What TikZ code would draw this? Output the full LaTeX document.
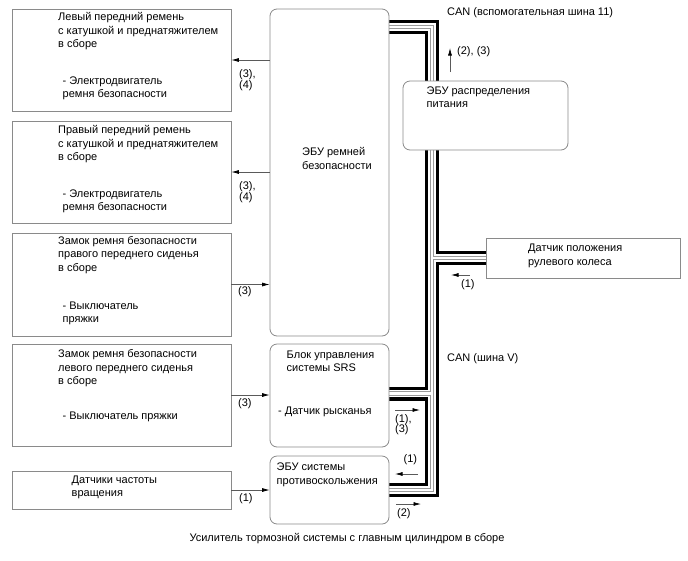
\documentclass[tikz,border=0pt]{standalone}
\usepackage{fontspec}
\setmainfont{Liberation Sans}
\usetikzlibrary{arrows.meta,positioning,calc,backgrounds}
\definecolor{frame}{HTML}{8A8A8A}
\definecolor{wire}{HTML}{5A5A5A}
\definecolor{core}{HTML}{9A9A9A}

\begin{document}
\begin{tikzpicture}[x=1pt,y=-1pt,
  font=\fontsize{11}{13.6}\selectfont,
  part/.style={draw=frame, fill=white, line width=0.8pt, inner sep=0pt},
  ecu/.style={part, rounded corners=7pt},
  txt/.style={anchor=base west, inner sep=0pt, align=left},
  tag/.style={txt, font=\fontsize{11}{10.5}\selectfont},
  sig/.style={draw=wire, line width=0.7pt, -{Latex[length=7.5pt,width=4pt,color=black]}}]
  \useasboundingbox (0,0) rectangle (688,560);

  % units on the left
  \node[part, minimum width=219pt, minimum height=102pt] (lbelt) at (121.5,60) {};
  \node[part, minimum width=219pt, minimum height=102pt] (rbelt) at (121.5,172) {};
  \node[part, minimum width=219pt, minimum height=103pt] (rbuckle) at (121.5,284.5) {};
  \node[part, minimum width=219pt, minimum height=102pt] (lbuckle) at (121.5,395) {};
  \node[part, minimum width=219pt, minimum height=38pt] (speed) at (121.5,490) {};

  % ECUs
  \node[ecu, minimum width=119pt, minimum height=327pt] (belt) at (329.5,172.5) {};
  \node[ecu, minimum width=119pt, minimum height=103pt] (srs) at (329.5,395.5) {};
  \node[ecu, minimum width=119pt, minimum height=68pt] (abs) at (329.5,490) {};
  \node[ecu, minimum width=165pt, minimum height=69pt] (power) at (485.5,115.5) {};
  \node[part, minimum width=194pt, minimum height=40pt] (steer) at (583,258) {};

  % texts (anchored on the baseline of their last line)
  \node[txt] (lbeltT) at (58,47.7) {Левый передний ремень\\с катушкой и преднатяжителем\\в сборе};
  \node[txt] (lbeltS) at (62.5,97.6) {- Электродвигатель\\ремня безопасности};
  \node[txt] (rbeltT) at (58,160.7) {Правый передний ремень\\с катушкой и преднатяжителем\\в сборе};
  \node[txt] (rbeltS) at (62.5,210.6) {- Электродвигатель\\ремня безопасности};
  \node[txt] (rbuckleT) at (58,271.2) {Замок ремня безопасности\\правого переднего сиденья\\в сборе};
  \node[txt] (rbuckleS) at (62.5,322.6) {- Выключатель\\пряжки};
  \node[txt] (lbuckleT) at (58,384.7) {Замок ремня безопасности\\левого переднего сиденья\\в сборе};
  \node[txt] (lbuckleS) at (62.5,419) {- Выключатель пряжки};
  \node[txt] (speedT) at (71.5,496.6) {Датчики частоты\\вращения};
  \node[txt] (beltT) at (302,169.1) {ЭБУ ремней\\безопасности};
  \node[txt] (powerT) at (426.5,107.6) {ЭБУ распределения\\питания};
  \node[txt] (steerT) at (528,265.1) {Датчик положения\\рулевого колеса};
  \node[txt] (srsT) at (286.5,371.6) {Блок управления\\системы SRS};
  \node[txt] (srsS) at (278,414) {- Датчик рысканья};
  \node[txt] (absT) at (276.5,484.1) {ЭБУ системы\\противоскольжения};
  \node[txt] (canA) at (447,15) {CAN (вспомогательная шина 11)};
  \node[txt] (canV) at (447,361) {CAN (шина V)};
  \node[anchor=base, inner sep=0pt] (caption) at (347,541) {Усилитель тормозной системы с главным цилиндром в сборе};

  % CAN bus
  \coordinate (top) at (432,27);
  \coordinate (bot) at (top |- abs.east);
  \coordinate (jsw) at (top |- steer.west);
  \coordinate (jsrs) at (432,393.5);
  \begin{scope}[on background layer]
    \foreach \w/\c in {14/black,7.5/white,4.5/core,2.2/white}
      \draw[line width=\w pt, \c, line join=miter]
        (belt.east |- top) -- (top) -- (bot) -- (abs.east |- bot)
        (jsw) -- (steer.west |- jsw)
        (jsrs) -- (srs.east |- jsrs);
  \end{scope}

  % signals to and from the units
  \draw[sig] (lbelt.east -| belt.west) -- (lbelt.east);
  \draw[sig] (rbelt.east -| belt.west) -- (rbelt.east);
  \draw[sig] (rbuckle.east) -- (rbuckle.east -| belt.west);
  \draw[sig] (lbuckle.east) -- (lbuckle.east -| srs.west);
  \draw[sig] (speed.east) -- (speed.east -| abs.west);
  \node[tag] (lbeltL) at (239,88) {(3),\\(4)};
  \node[tag] (rbeltL) at (239,200) {(3),\\(4)};
  \node[tag] (rbuckleL) at (238,294) {(3)};
  \node[tag] (lbuckleL) at (238,406) {(3)};
  \node[tag] (speedL) at (239,501) {(1)};

  % signals on the bus
  \coordinate (s23) at (450,72);
  \coordinate (s1a) at (470,275);
  \coordinate (s13) at (395,410);
  \coordinate (s1b) at (418,474);
  \coordinate (s2) at (396,504);
  \draw[sig] (s23) -- ++(0,-24);
  \draw[sig] (s1a) -- ++(-19,0);
  \draw[sig] (s13) -- ++(25,0);
  \draw[sig] (s1b) -- ++(-23,0);
  \draw[sig] (s2) -- ++(25,0);
  \node[tag] (s23L) at (457,54.5) {(2), (3)};
  \node[tag] (s1aL) at (461,287.5) {(1)};
  \node[tag] (s13L) at (395,432.5) {(1),\\(3)};
  \node[tag] (s1bL) at (403.5,462) {(1)};
  \node[tag] (s2L) at (397,516) {(2)};
\end{tikzpicture}
\end{document}
